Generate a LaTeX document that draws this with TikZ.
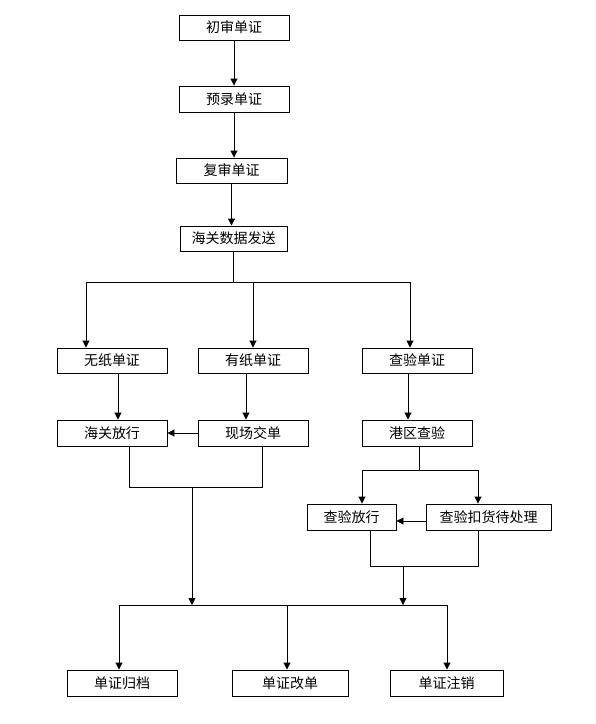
\documentclass[tikz,border=0pt]{standalone}
\usepackage{fontspec}
\newfontfamily\cjk{Noto Sans CJK SC}
\usetikzlibrary{arrows.meta}
\tikzset{
  stepbox/.style={rectangle, draw=black, line width=0.9pt, fill=white,
                  minimum height=25pt, inner sep=0pt, align=center},
  arrow/.style={-{Triangle[length=7pt,width=7pt]}, line width=0.9pt},
  link/.style={line width=0.9pt}
}
\begin{document}
\begin{tikzpicture}[x=1pt, y=-1pt, font=\cjk\fontsize{14pt}{16pt}\selectfont]
\useasboundingbox (0,0) rectangle (596,724);
% main line
\node[stepbox, minimum width=110pt] (chushen) at (234,27.5) {初审单证};
\node[stepbox, minimum width=110pt, minimum height=26pt] (yulu) at (234,99) {预录单证};
\node[stepbox, minimum width=111pt] (fushen) at (231.5,170.5) {复审单证};
\node[stepbox, minimum width=107pt] (fasong) at (233.5,238.5) {海关数据发送};
% three kinds
\node[stepbox, minimum width=110pt] (wuzhi) at (112,360.5) {无纸单证};
\node[stepbox, minimum width=110pt] (youzhi) at (253,360.5) {有纸单证};
\node[stepbox, minimum width=110pt] (chayan) at (417,360.5) {查验单证};
\node[stepbox, minimum width=110pt, minimum height=26pt] (fangxing) at (112,433) {海关放行};
\node[stepbox, minimum width=110pt, minimum height=26pt] (jiaodan) at (253,433) {现场交单};
\node[stepbox, minimum width=110pt, minimum height=26pt] (gangqu) at (417,433) {港区查验};
\node[stepbox, minimum width=89pt, minimum height=26pt] (cyfx) at (351.5,517) {查验放行};
\node[stepbox, minimum width=125pt, minimum height=26pt] (kouhuo) at (488.5,517) {查验扣货待处理};
% end states
\node[stepbox, minimum width=110pt, minimum height=26pt] (guidang) at (122,683) {单证归档};
\node[stepbox, minimum width=116pt, minimum height=26pt] (gaidan) at (290,683) {单证改单};
\node[stepbox, minimum width=113pt, minimum height=26pt] (zhuxiao) at (446.5,683) {单证注销};

\draw[arrow] (chushen.south) -- (chushen.south |- yulu.north);
\draw[arrow] (yulu.south) -- (yulu.south |- fushen.north);
\draw[arrow] (fushen.south) -- (fushen.south |- fasong.north);

% split into three
\coordinate (split) at (233,282);
\coordinate (b1) at (86,282);
\coordinate (b2) at (253,282);
\coordinate (b3) at (410,282);
\draw[link] (fasong.south -| split) -- (split);
\draw[link] (b1) -- (b3);
\foreach \b/\n in {b1/wuzhi, b2/youzhi, b3/chayan}
  \draw[arrow] (\b) -- (\b |- \n.north);

\draw[arrow] ([xshift=6pt]wuzhi.south) -- ([xshift=6pt]fangxing.north);
\draw[arrow] ([xshift=-7pt]youzhi.south) -- ([xshift=-7pt]jiaodan.north);
\draw[arrow] ([xshift=-9pt]chayan.south) -- ([xshift=-9pt]gangqu.north);
\draw[arrow] (jiaodan.west) -- (fangxing.east);

% left join
\coordinate (m1) at (129,487);
\coordinate (m2) at (262,487);
\coordinate (m) at (192,487);
\draw[link] (fangxing.south -| m1) -- (m1) -- (m2) -- (jiaodan.south -| m2);

% inspection split
\coordinate (s) at (419,470);
\coordinate (s1) at (362,470);
\coordinate (s2) at (478,470);
\draw[link] (gangqu.south -| s) -- (s);
\draw[link] (s1) -- (s2);
\draw[arrow] (s1) -- (s1 |- cyfx.north);
\draw[arrow] (s2) -- (s2 |- kouhuo.north);
\draw[arrow] ([yshift=-4pt]kouhuo.west) -- ([yshift=-4pt]cyfx.east);

% right join
\coordinate (t1) at (370,566);
\coordinate (t2) at (478,566);
\coordinate (t) at (403,566);
\draw[link] (cyfx.south -| t1) -- (t1) -- (t2) -- (kouhuo.south -| t2);

% bottom bus
\coordinate (k1) at (119,605);
\coordinate (k2) at (287,605);
\coordinate (k3) at (447,605);
\draw[link] (k1) -- (k3);
\draw[arrow] (m) -- (m |- k1);
\draw[arrow] (t) -- (t |- k3);
\foreach \k/\n in {k1/guidang, k2/gaidan, k3/zhuxiao}
  \draw[arrow] (\k) -- (\k |- \n.north);
\end{tikzpicture}
\end{document}
